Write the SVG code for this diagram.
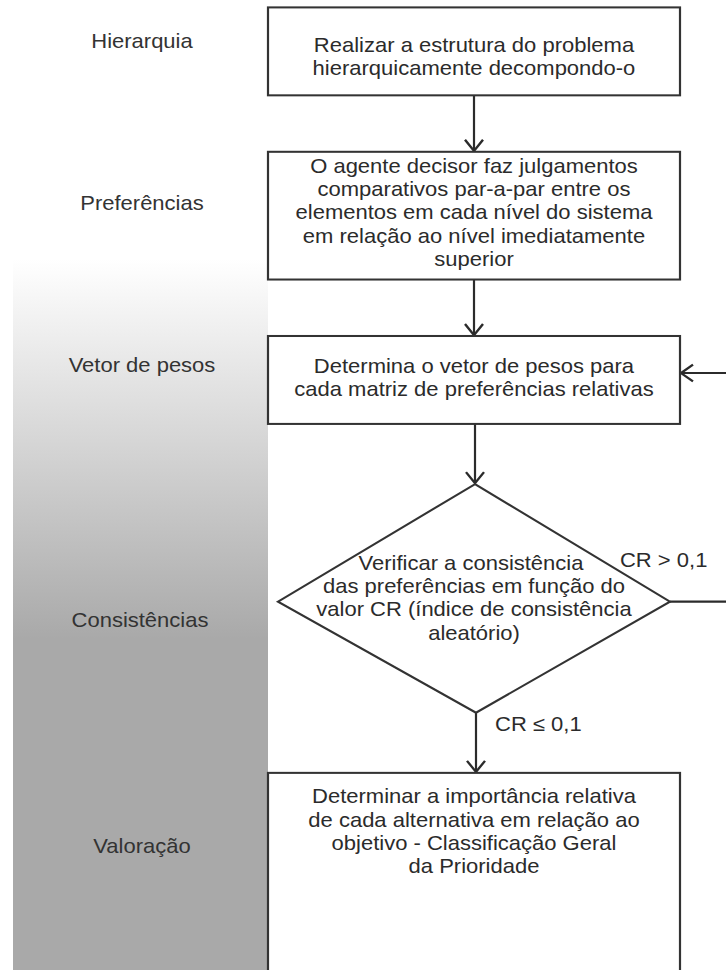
<svg xmlns="http://www.w3.org/2000/svg" width="726" height="970" viewBox="0 0 726 970">
  <style>
    .box { fill: #ffffff; stroke: #333333; stroke-width: 2.2; }
    .t { font-family: "Liberation Sans", Arial, sans-serif; font-size: 22px; fill: #2b2b2b; text-anchor: middle; }
    .lbl { font-family: "Liberation Sans", Arial, sans-serif; font-size: 22px; fill: #333333; text-anchor: middle; }
    .cl { font-family: "Liberation Sans", Arial, sans-serif; font-size: 22px; fill: #2b2b2b; }
    .edge { fill: none; stroke: #2b2b2b; stroke-width: 2.2; }
  </style>
  <defs>
    <linearGradient id="bar" gradientUnits="userSpaceOnUse" x1="0" y1="280" x2="0" y2="690">
      <stop offset="0" stop-color="#ffffff"/>
      <stop offset="1" stop-color="#a9a9a9"/>
    </linearGradient>
    <marker id="arr" markerUnits="userSpaceOnUse" markerWidth="24" markerHeight="24" viewBox="0 0 24 24" refX="20" refY="12" orient="auto">
      <path d="M8,3 L20,12 L8,21" fill="none" stroke="#2b2b2b" stroke-width="2.4"/>
    </marker>
  </defs>

  <g transform="scale(1,0.9256)">
    <rect x="13" y="270" width="255" height="790" fill="url(#bar)"/>

    <g id="labels">
      <text class="lbl" x="142" y="52">Hierarquia</text>
      <text class="lbl" x="142" y="227">Preferências</text>
      <text class="lbl" x="142" y="402">Vetor de pesos</text>
      <text class="lbl" x="140" y="677">Consistências</text>
      <text class="lbl" x="142" y="922">Valoração</text>
    </g>

    <g id="connectors">
      <line class="edge" x1="474" y1="103" x2="474" y2="163" marker-end="url(#arr)"/>
      <line class="edge" x1="474" y1="302" x2="474" y2="362" marker-end="url(#arr)"/>
      <line class="edge" x1="475" y1="458" x2="475" y2="522" marker-end="url(#arr)"/>
      <line class="edge" x1="476" y1="770" x2="476" y2="834" marker-end="url(#arr)"/>
      <line class="edge" x1="670" y1="650" x2="726" y2="650"/>
      <line class="edge" x1="726" y1="403" x2="681" y2="403" marker-end="url(#arr)"/>
      <text class="cl" x="620" y="613">CR &gt; 0,1</text>
      <text class="cl" x="495" y="790">CR ≤ 0,1</text>
    </g>

    <g id="n1">
      <rect class="box" x="268" y="8" width="412" height="95"/>
      <text class="t" x="474" y="56">Realizar a estrutura do problema</text>
      <text class="t" x="474" y="81">hierarquicamente decompondo-o</text>
    </g>

    <g id="n2">
      <rect class="box" x="268" y="164" width="412" height="138"/>
      <text class="t" x="474" y="187">O agente decisor faz  julgamentos</text>
      <text class="t" x="474" y="212">comparativos par-a-par entre os</text>
      <text class="t" x="474" y="237">elementos em cada nível do sistema</text>
      <text class="t" x="474" y="262">em relação ao nível imediatamente</text>
      <text class="t" x="474" y="287">superior</text>
    </g>

    <g id="n3">
      <rect class="box" x="268" y="363" width="412" height="95"/>
      <text class="t" x="474" y="403">Determina o vetor de pesos para</text>
      <text class="t" x="474" y="428">cada matriz de preferências relativas</text>
    </g>

    <g id="n4">
      <polygon class="box" points="475,523 670,650 476,770 278,650"/>
      <text class="t" x="471" y="616">Verificar a consistência</text>
      <text class="t" x="474" y="641">das preferências em função do</text>
      <text class="t" x="474" y="666">valor CR (índice de consistência</text>
      <text class="t" x="474" y="691">aleatório)</text>
    </g>

    <g id="n5">
      <rect class="box" x="268" y="835" width="412" height="240"/>
      <text class="t" x="474" y="868">Determinar a importância relativa</text>
      <text class="t" x="474" y="893">de cada alternativa em relação ao</text>
      <text class="t" x="474" y="918">objetivo - Classificação Geral</text>
      <text class="t" x="474" y="943">da Prioridade</text>
    </g>
  </g>
</svg>
